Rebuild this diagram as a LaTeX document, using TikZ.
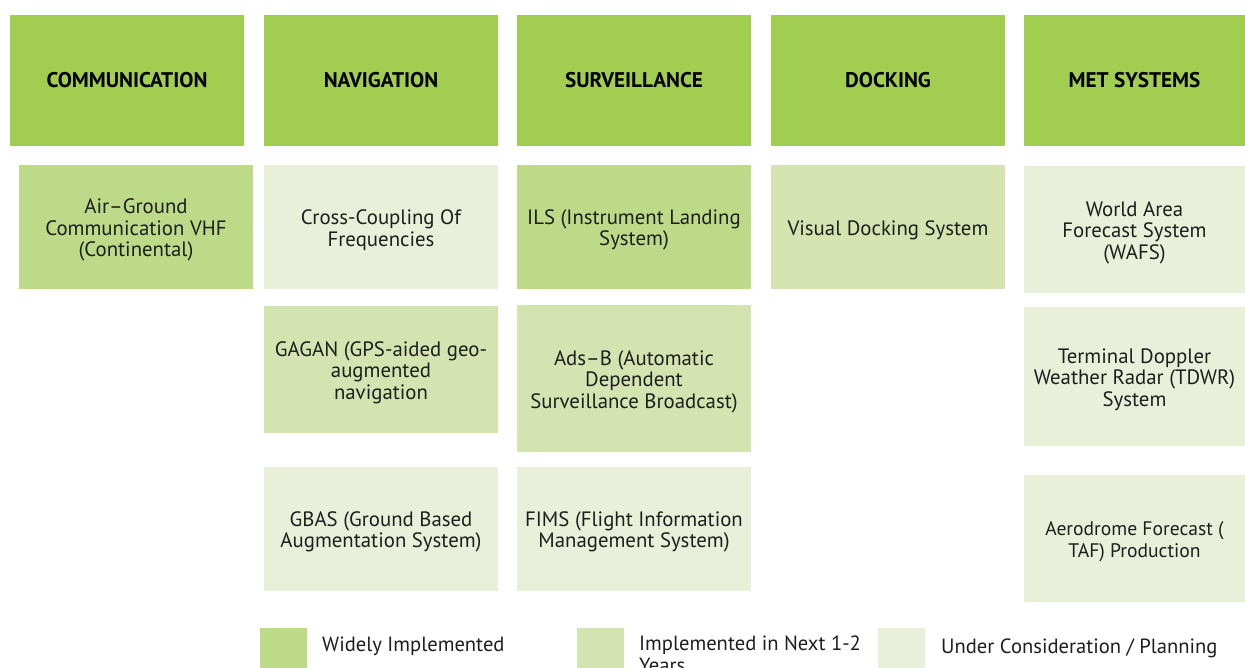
\documentclass[tikz,border=0pt]{standalone}
\usepackage{fontspec}
\setmainfont{PT Sans}
\definecolor{hdr}{HTML}{A1CE50}
\definecolor{med}{HTML}{BDDA89}
\definecolor{lmed}{HTML}{D3E4B0}
\definecolor{lite}{HTML}{E8F0D9}
\definecolor{txt}{HTML}{1E1E1E}
\tikzset{
  hdrbox/.style={fill=hdr, draw=none, inner sep=0pt, outer sep=0pt, minimum height=131pt, text=black,
    font=\fontsize{21.2}{24}\selectfont\bfseries},
  cell/.style={draw=none, inner sep=0pt, outer sep=0pt},
  celltxt/.style={inner sep=0pt, align=center, text=txt, font=\fontsize{20.8}{21.6}\selectfont},
  legsq/.style={draw=none, inner sep=0pt, outer sep=0pt, minimum width=47pt, minimum height=47pt},
  legtxt/.style={anchor=west, inner sep=0pt, align=left, text=txt, font=\fontsize{20.6}{21.6}\selectfont}
}
\begin{document}
\begin{tikzpicture}[x=1pt,y=-1pt]
\useasboundingbox (0,0) rectangle (1245,668);
\clip (0,0) rectangle (1245,668);
% headers
\node[hdrbox, minimum width=234pt] (hcomm) at (127,80.5) {COMMUNICATION};
\node[hdrbox, minimum width=234pt] (hnav) at (381,80.5) {NAVIGATION};
\node[hdrbox, minimum width=234pt] (hsurv) at (634,80.5) {SURVEILLANCE};
\node[hdrbox, minimum width=234pt] (hdock) at (888,80.5) {DOCKING};
\node[hdrbox, minimum width=221pt] (hmet) at (1134.5,80.5) {MET SYSTEMS};
% row 1 boxes
\node[cell, fill=med, minimum width=234pt, minimum height=124pt] (ag) at (136,227) {};
\node[cell, fill=lite, minimum width=234pt, minimum height=124pt] (cc) at (381,227) {};
\node[cell, fill=med, minimum width=234pt, minimum height=124pt] (ils) at (634,227) {};
\node[cell, fill=lmed, minimum width=234pt, minimum height=124pt] (vd) at (888,227) {};
\node[cell, fill=lite, minimum width=221pt, minimum height=127pt] (wafs) at (1134.5,229.5) {};
% row 2 boxes
\node[cell, fill=lmed, minimum width=234pt, minimum height=127pt] (gagan) at (381,369.5) {};
\node[cell, fill=lmed, minimum width=234pt, minimum height=147pt] (adsb) at (634,378.5) {};
\node[cell, fill=lite, minimum width=221pt, minimum height=139pt] (tdwr) at (1134.5,376.5) {};
% row 3 boxes
\node[cell, fill=lite, minimum width=234pt, minimum height=124pt] (gbas) at (381,529) {};
\node[cell, fill=lite, minimum width=234pt, minimum height=124pt] (fims) at (634,529) {};
\node[cell, fill=lite, minimum width=221pt, minimum height=127pt] (taf) at (1134.5,538.5) {};
% texts
\node[celltxt] (agt) at ([yshift=-3pt]ag.center) {Air--Ground\\Communication VHF\\(Continental)};
\node[celltxt] (cct) at ([yshift=-3pt]cc.center) {Cross-Coupling Of\\Frequencies};
\node[celltxt] (ilst) at ([yshift=-3pt]ils.center) {ILS (Instrument Landing\\System)};
\node[celltxt] (vdt) at ([yshift=-3pt]vd.center) {Visual Docking System};
\node[celltxt] (wafst) at ([yshift=-3pt]wafs.center) {World Area\\Forecast System\\(WAFS)};
\node[celltxt] (gagant) at ([yshift=-3pt]gagan.center) {GAGAN (GPS-aided geo-\\augmented\\navigation};
\node[celltxt] (adsbt) at ([yshift=-3pt]adsb.center) {Ads--B (Automatic\\Dependent\\Surveillance Broadcast)};
\node[celltxt] (tdwrt) at ([yshift=-3pt]tdwr.center) {Terminal Doppler\\Weather Radar (TDWR)\\System};
\node[celltxt] (gbast) at ([yshift=-3pt]gbas.center) {GBAS (Ground Based\\Augmentation System)};
\node[celltxt] (fimst) at ([yshift=-3pt]fims.center) {FIMS (Flight Information\\Management System)};
\node[celltxt, font=\fontsize{19.6}{21.6}\selectfont] (taft) at ([yshift=-3pt]taf.center) {Aerodrome Forecast (\\TAF) Production};
% legend
\node[legsq, fill=med] (l1) at (283.5,651.5) {};
\node[legsq, fill=lmed] (l2) at (600,651.5) {};
\node[legsq, fill=lite] (l3) at (901.5,651.5) {};
\node[legtxt] (t1) at (322,646) {Widely Implemented};
\node[legtxt, anchor=north west] (t2) at (639,636) {Implemented in Next 1-2\\Years};
\node[legtxt] (t3) at (941,648) {Under Consideration / Planning};
\end{tikzpicture}
\end{document}
